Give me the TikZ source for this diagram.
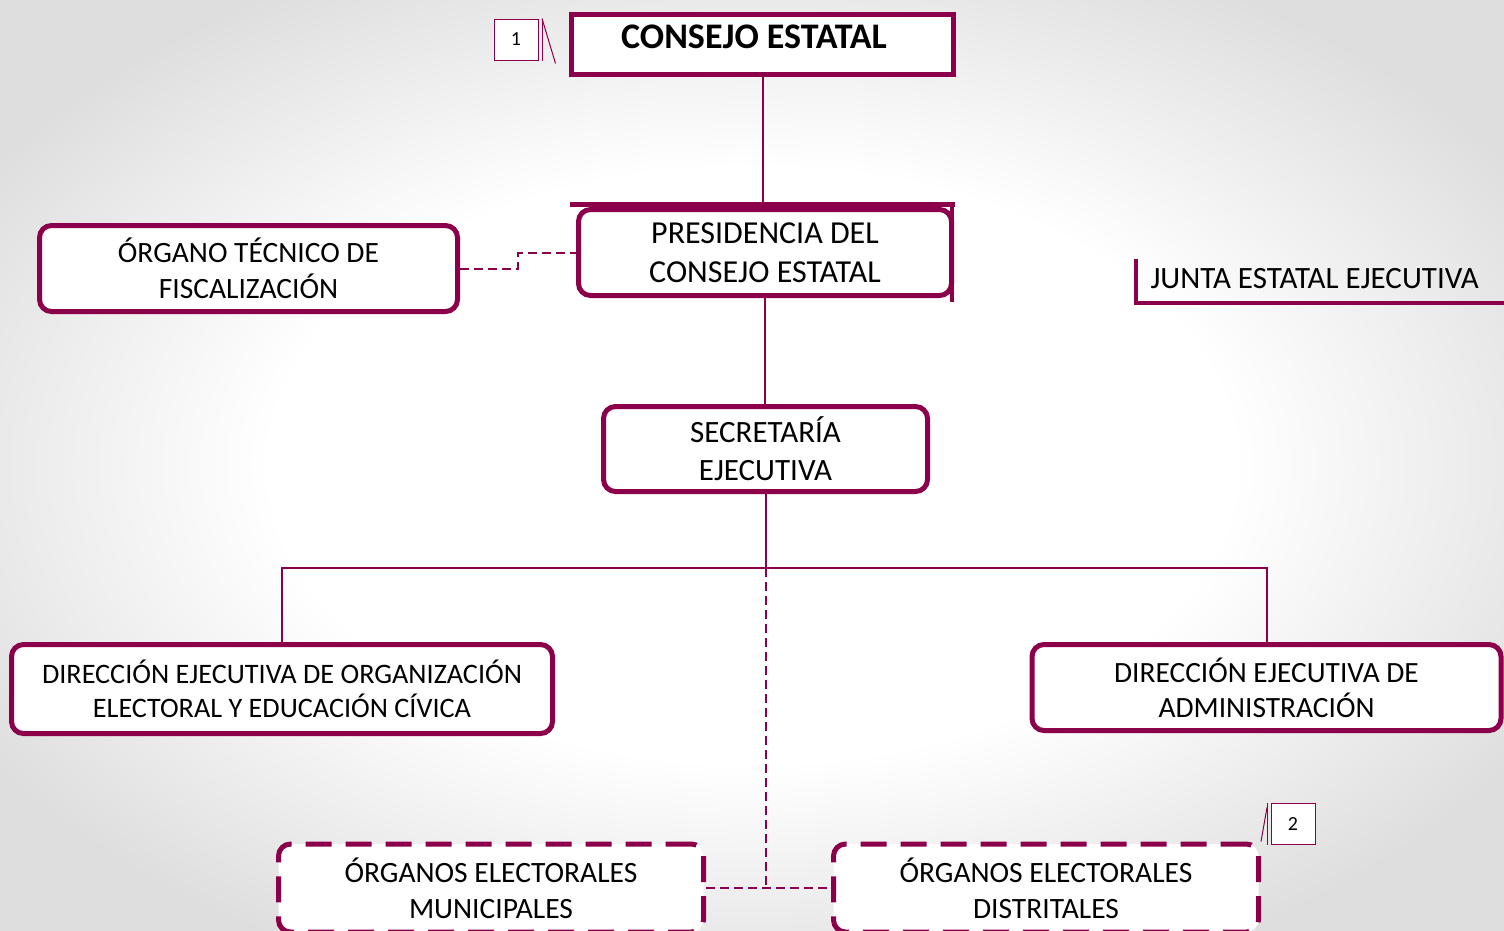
\documentclass[tikz,border=0pt]{standalone}
\usepackage{fontspec}
\setmainfont{Carlito}
\definecolor{mar}{HTML}{8C004B}
\pgfdeclareradialshading{bgshade}{\pgfpoint{0bp}{0bp}}{color(0bp)=(white); color(16bp)=(white); color(30bp)=(black!13); color(50bp)=(black!13)}
\begin{document}
\begin{tikzpicture}[x=1pt,y=-1pt,
 box/.style={draw=mar, line width=5pt, fill=white, rounded corners=12pt, align=center, inner sep=0pt},
 dbox/.style={box, dash pattern=on 26pt off 14pt},
 conn/.style={draw=mar, line width=2pt},
 dconn/.style={conn, dash pattern=on 9pt off 5pt},
 tag/.style={draw=mar, line width=1pt, fill=white, minimum width=44pt, minimum height=41pt, inner sep=0pt, font=\fontsize{20}{22}\selectfont},
 thin/.style={draw=mar, line width=1pt}
]
\useasboundingbox (0,0) rectangle (1504,930);
\clip (0,0) rectangle (1504,930);
\shade[shading=bgshade] (0,0) rectangle (1504,930);

% boxes
\node[box, rounded corners=0pt, minimum width=382pt, minimum height=60pt] (consejo) at (762.5,44.5) {};
\node[font=\bfseries\fontsize{36}{40}\selectfont] (consejotxt) at (754,37) {CONSEJO ESTATAL};
\node[box, minimum width=373pt, minimum height=86pt, font=\fontsize{32}{39}\selectfont] (pres) at (765,252.5) {PRESIDENCIA DEL\\CONSEJO ESTATAL};
\node[box, minimum width=418pt, minimum height=86pt, font=\fontsize{29.5}{36}\selectfont] (organo) at (248.5,268.5) {ÓRGANO TÉCNICO DE\\FISCALIZACIÓN};
\node[box, minimum width=324pt, minimum height=85pt, font=\fontsize{31}{38}\selectfont] (secre) at (765.5,449) {SECRETARÍA\\EJECUTIVA};
\node[box, minimum width=541pt, minimum height=89pt, font=\fontsize{28.2}{34}\selectfont] (dirL) at (282,689) {DIRECCIÓN EJECUTIVA DE ORGANIZACIÓN\\ELECTORAL Y EDUCACIÓN CÍVICA};
\node[box, minimum width=469pt, minimum height=86pt, font=\fontsize{29.4}{35}\selectfont] (dirR) at (1266.5,687.5) {DIRECCIÓN EJECUTIVA DE\\ADMINISTRACIÓN};
\node[dbox, minimum width=425pt, minimum height=88pt, font=\fontsize{29.5}{36}\selectfont] (mun) at (491,888) {ÓRGANOS ELECTORALES\\MUNICIPALES};
\node[dbox, minimum width=425pt, minimum height=88pt, font=\fontsize{29.5}{36}\selectfont] (dist) at (1046,888) {ÓRGANOS ELECTORALES\\DISTRITALES};

% extra bars of the presidencia box
\draw[mar, line width=5pt] (570,204.5) -- (955,204.5);
\draw[mar, line width=4pt] (952,207) -- (952,302);

% connectors
\draw[conn] (consejo.south) -- (pres.north -| consejo.south);
\draw[conn] (pres.south) -- (secre.north -| pres.south);
\draw[conn] (secre.south) -- ++(0,74) coordinate (hub);
\draw[conn] (hub) -| (dirL.north);
\draw[conn] (hub) -| (dirR.north);
\draw[dconn] (organo.east) -- ++(58,0) |- (pres.west);
\draw[dconn] (hub) -- (hub |- mun.east);
\draw[dconn] (mun.east) -- (dist.west);

% tags
\node[tag] (tag1) at (516,39.5) {1};
\draw[thin] ([xshift=3.5pt]tag1.north east) -- ([xshift=3.5pt]tag1.south east);
\draw[thin] ([xshift=3.5pt]tag1.north east) -- ++(13.5,45) coordinate (t1end);
\node[tag] (tag2) at (1293,823.5) {2};
\draw[thin] ([xshift=-3.5pt]tag2.north west) -- ([xshift=-3.5pt]tag2.south west);
\draw[thin] ([xshift=-3.5pt,yshift=-5pt]tag2.north west) -- (dist.north east);

% junta
\node[font=\fontsize{31}{34}\selectfont, anchor=west] (junta) at (1147,279) {JUNTA ESTATAL EJECUTIVA};
\draw[mar, line width=4pt] (1136,259) -- (1136,303) -- (1504,303);
\end{tikzpicture}
\end{document}
